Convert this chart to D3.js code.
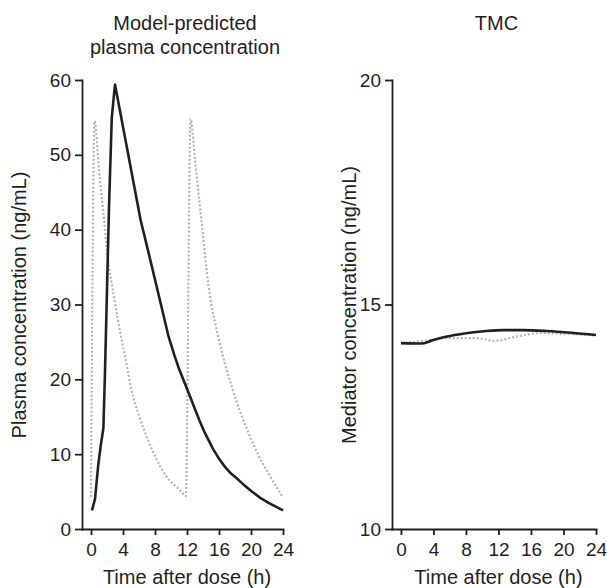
<!DOCTYPE html>
<html>
<head>
<meta charset="utf-8">
<script src="https://cdn.jsdelivr.net/npm/d3@7"></script>
<style>
body{margin:0;background:#fff;}
text{font-family:"Liberation Sans",Arial,Helvetica,sans-serif;fill:#231f20;}
.axis path,.axis line{stroke:#231f20;stroke-width:1.8;}
.axis text{font-size:19px;}
</style>
</head>
<body>
<div id="chart"></div>
<script>
// left panel: plasma concentration (ng/mL)
let onceTime=[0.12,0.5,0.9,1.2,1.55,1.75,2.0,2.25,2.6,3.0,6.2,7.2,8.5,9.7,10.4,11.0,11.6,12.2,13.0,13.6,14.25,15.3,16.0,16.75,17.5,18.4,19.2,20.1,21.1,22.2,23.1,24.0];
let onceConc=[2.5,4.0,8.5,11.0,13.5,21,32,43,55,59.4,41.3,36.9,31.1,25.7,23.3,21.4,19.8,18.2,16.0,14.4,12.8,10.6,9.4,8.3,7.4,6.6,5.8,5.0,4.2,3.5,3.0,2.5];
let twiceTime=[0,0.45,1.0,1.7,2.0,3.0,4.5,5.1,6.0,7.2,8.2,9.3,10.3,11.3,11.85,12.45,13.0,13.8,14.7,15.9,17.6,19.7,21.0,22.2,24.0];
let twiceConc=[4.3,54.5,48.0,40.6,37.3,30.2,21.7,18.4,15.2,11.7,9.3,7.2,6.0,5.0,4.4,54.8,49.3,41.3,32.4,25.7,19.0,12.8,9.7,7.4,4.2];
// right panel: TMC mediator concentration (ng/mL)
let tmcOnceTime=[0,2.6,4,5.5,8,10.5,12.6,15,17.9,21,24];
let tmcOnceConc=[14.14,14.13,14.21,14.28,14.36,14.41,14.43,14.43,14.41,14.37,14.32];
let tmcTwiceTime=[0,1.8,4,5.5,9.2,11.6,14.1,17,20,24];
let tmcTwiceConc=[14.14,14.17,14.22,14.25,14.25,14.19,14.28,14.36,14.35,14.31];

let xTicks=[0,4,8,12,16,20,24];
let leftYTicks=[0,10,20,30,40,50,60];
let rightYTicks=[10,15,20];

let width=607;
let height=588;

let svg=d3.select("#chart").append("svg")
.attr("width",width)
.attr("height",height);

function panel(opt){
    let xscale=d3.scaleLinear().domain([opt.xmin,24]).range([opt.left,opt.right]);
    let yscale=d3.scaleLinear().domain(opt.ydomain).range([529,80]);

    svg.append("g")
    .attr("class","axis")
    .attr("transform","translate(0,529)")
    .call(d3.axisBottom(xscale).tickValues(xTicks).tickSizeInner(6).tickSizeOuter(0).tickPadding(8));

    svg.append("g")
    .attr("class","axis")
    .attr("transform","translate("+opt.left+",0)")
    .call(d3.axisLeft(yscale).tickValues(opt.yticks).tickSizeInner(7).tickSizeOuter(0).tickPadding(4));

    svg.selectAll(".axis .domain").attr("stroke-linecap","square");

    let line=function(curve){
        return d3.line()
        .x(function(d){return xscale(d[0]);})
        .y(function(d){return yscale(d[1]);})
        .curve(curve);
    };

    // twice daily: grey dotted, drawn first
    svg.append("path")
    .datum(d3.zip(opt.t2,opt.c2))
    .attr("d",line(d3.curveMonotoneX))
    .attr("fill","none")
    .attr("stroke","#b3b3b3")
    .attr("stroke-width",2.2)
    .attr("stroke-dasharray","2,2");

    svg.append("path")
    .datum(d3.zip(opt.t1,opt.c1))
    .attr("d",line(opt.curve1))
    .attr("fill","none")
    .attr("stroke","#231f20")
    .attr("stroke-width",2.6)
    .attr("stroke-linejoin","round");

    let cx=(xscale(0)+xscale(24))/2;
    opt.title.forEach(function(s,i){
        svg.append("text").text(s)
        .attr("x",cx-2).attr("y",30+i*24)
        .attr("text-anchor","middle")
        .style("font-size","20px");
    });

    svg.append("text").text("Time after dose (h)")
    .attr("x",cx).attr("y",584)
    .attr("text-anchor","middle")
    .style("font-size","20px");

    svg.append("text").text(opt.ylabel)
    .attr("transform","translate("+opt.ylabelX+",305) rotate(-90)")
    .attr("text-anchor","middle")
    .style("font-size","20px");
}

panel({left:82,right:283,xmin:-1.125,ydomain:[0,60],yticks:leftYTicks,
    t1:onceTime,c1:onceConc,t2:twiceTime,c2:twiceConc,curve1:d3.curveLinear,
    title:["Model-predicted","plasma concentration"],
    ylabel:"Plasma concentration (ng/mL)",ylabelX:26});

panel({left:392,right:596,xmin:-1.1,ydomain:[10,20],yticks:rightYTicks,
    t1:tmcOnceTime,c1:tmcOnceConc,t2:tmcTwiceTime,c2:tmcTwiceConc,curve1:d3.curveMonotoneX,
    title:["TMC"],
    ylabel:"Mediator concentration (ng/mL)",ylabelX:356});
</script>
</body>
</html>
